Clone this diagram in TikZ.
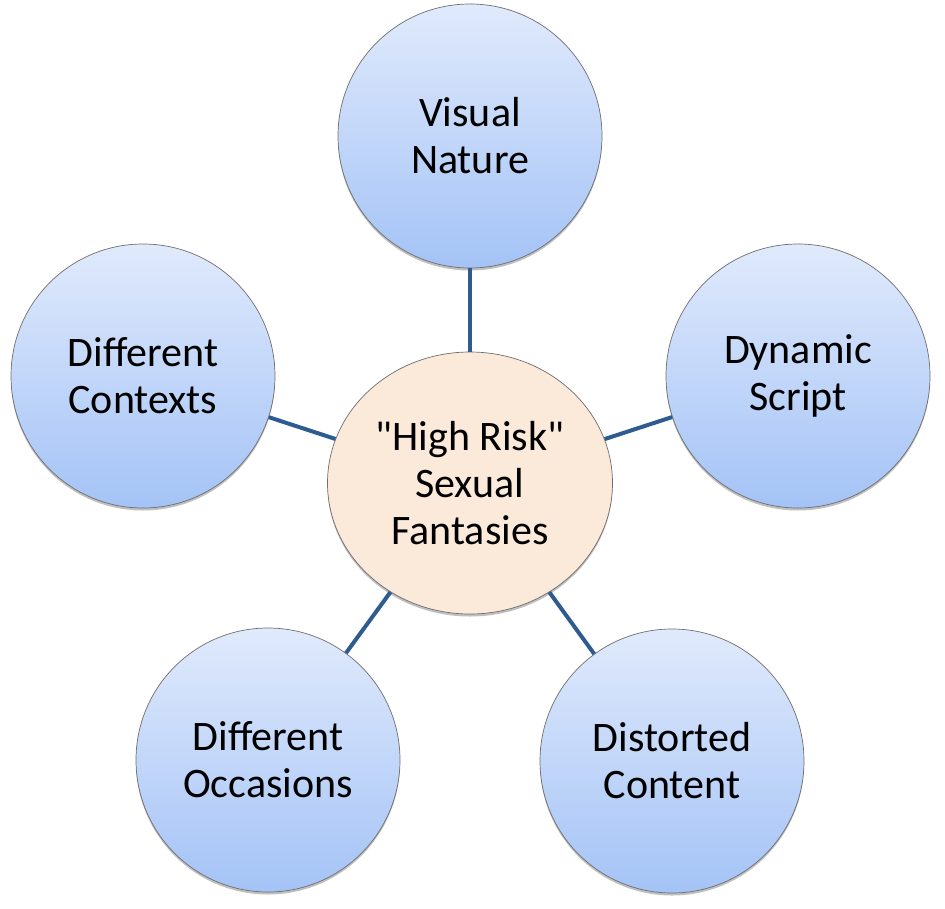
\documentclass[tikz,border=0pt]{standalone}
\usepackage{fontspec}
\setmainfont{Carlito}[Ligatures=TeXOff]
\usetikzlibrary{shapes.geometric,shadows}
\definecolor{linec}{HTML}{2E5C8E}
\definecolor{bluetop}{RGB}{224,234,252}
\definecolor{bluebot}{RGB}{164,195,246}
\definecolor{peach}{RGB}{251,233,218}
\definecolor{rimc}{RGB}{110,110,110}
\begin{document}
\begin{tikzpicture}[x=1pt,y=-1pt,
  txt/.style={align=center, font=\fontsize{42}{47}\selectfont, text=black},
  outer/.style={txt, circle, draw=rimc, line width=0.7pt, minimum size=264pt, inner sep=0pt,
    top color=bluetop, bottom color=bluebot,
    drop shadow={shadow xshift=0pt, shadow yshift=-2.5pt, opacity=0.25, fill=black}},
  hub/.style={txt, ellipse, draw=rimc, line width=0.7pt, minimum width=285pt, minimum height=262pt,
    inner sep=0pt, fill=peach,
    drop shadow={shadow xshift=0pt, shadow yshift=-2.5pt, opacity=0.25, fill=black}},
  link/.style={draw=linec, line width=4pt}]
\useasboundingbox (0,0) rectangle (945,908);
\node[hub] (c) at (470,483) {"High Risk"\\Sexual\\Fantasies};
\node[outer] (t) at (470,136) {Visual\\Nature};
\node[outer] (r) at (798,376) {Dynamic\\Script};
\node[outer] (l) at (143,376) {Different\\Contexts};
\node[outer] (bl) at (268,760) {Different\\Occasions};
\node[outer] (br) at (672,761) {Distorted\\Content};
\draw[link] (c) -- (t);
\draw[link] (c) -- (r);
\draw[link] (c) -- (l);
\draw[link] (c) -- (bl);
\draw[link] (c) -- (br);
\end{tikzpicture}
\end{document}
